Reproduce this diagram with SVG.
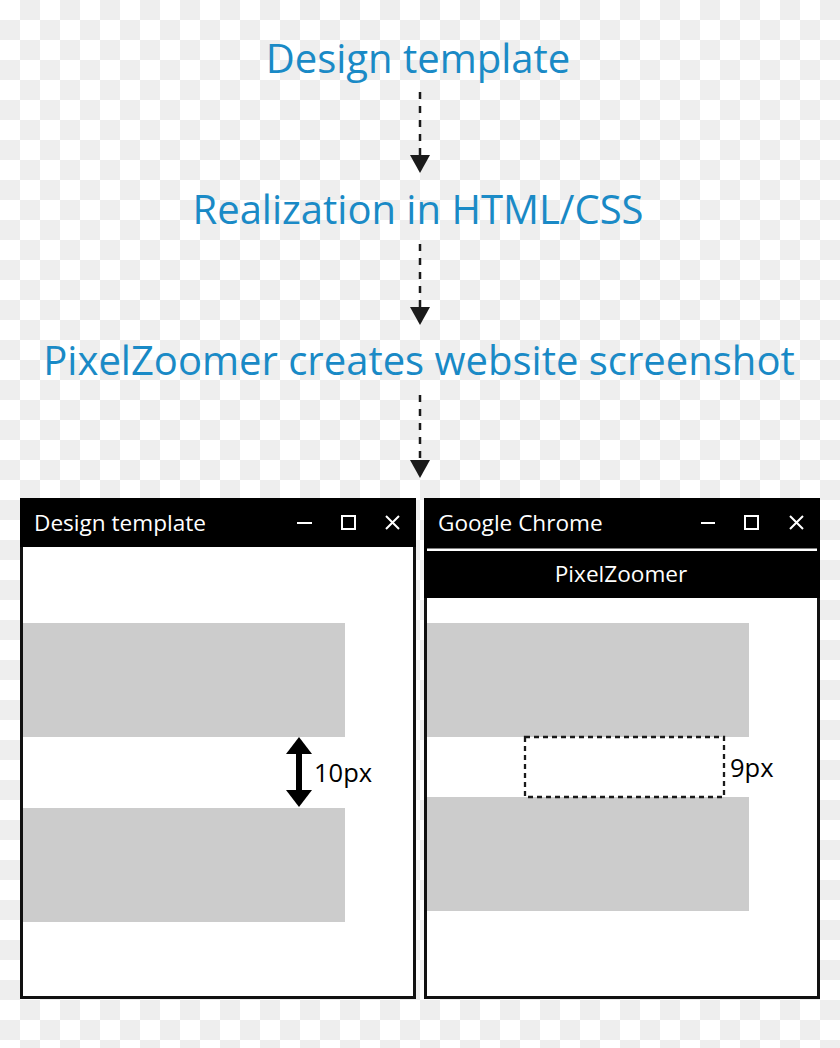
<svg xmlns="http://www.w3.org/2000/svg" width="840" height="1048" viewBox="0 0 840 1048">
<style>
.title{font-family:"Open Sans","Noto Sans",sans-serif;font-size:40px;fill:#1a8ac6;text-anchor:middle}
.wt{font-family:"Open Sans","Noto Sans",sans-serif;font-size:22.6px;fill:#ffffff}
.lbl{font-family:"Open Sans","Noto Sans",sans-serif;font-size:25.5px;fill:#000000}
.dash{stroke:#1a1a1a;stroke-width:2.5;stroke-dasharray:7,7;fill:none}
.ctl{stroke:#ffffff;stroke-width:2;fill:none}
.bar{fill:#cccccc}
</style>
<defs>
<pattern id="checker" width="40" height="40" patternUnits="userSpaceOnUse">
<rect width="40" height="40" fill="#ffffff"/>
<rect x="20" y="0" width="20" height="20" fill="#eeeeee"/>
<rect x="0" y="20" width="20" height="20" fill="#eeeeee"/>
</pattern>
</defs>
<rect width="840" height="1048" fill="url(#checker)"/>

<g id="step1"><text class="title" x="418" y="73">Design template</text></g>
<g id="step2"><text class="title" x="418" y="224">Realization in HTML/CSS</text></g>
<g id="step3"><text class="title" x="419" y="375">PixelZoomer creates website screenshot</text></g>

<g id="connectors">
<line class="dash" x1="420" y1="92" x2="420" y2="155"/>
<path d="M410,155 L430,155 L420,173 Z" fill="#1a1a1a"/>
<line class="dash" x1="420" y1="244" x2="420" y2="307"/>
<path d="M410,307 L430,307 L420,325 Z" fill="#1a1a1a"/>
<line class="dash" x1="420" y1="395" x2="420" y2="460"/>
<path d="M410,460 L430,460 L420,478 Z" fill="#1a1a1a"/>
</g>

<g id="window-design">
<rect x="21.5" y="499.5" width="393" height="498" fill="#ffffff" stroke="#111111" stroke-width="3"/>
<rect x="20" y="498" width="396" height="49" fill="#000000"/>
<text class="wt" x="34" y="531">Design template</text>
<line class="ctl" x1="297" y1="523" x2="312" y2="523"/>
<rect class="ctl" x="342" y="516" width="13" height="13"/>
<path class="ctl" d="M386,516 L399,529 M399,516 L386,529"/>
<rect class="bar" x="23" y="623" width="322" height="114"/>
<rect class="bar" x="23" y="808" width="322" height="114"/>
<rect x="296" y="750" width="6" height="44" fill="#000000"/>
<path d="M286,754 L299,737 L312,754 Z" fill="#000000"/>
<path d="M286,790 L299,807 L312,790 Z" fill="#000000"/>
<text class="lbl" x="314" y="782">10px</text>
</g>

<g id="window-chrome">
<rect x="425.5" y="499.5" width="393" height="498" fill="#ffffff" stroke="#111111" stroke-width="3"/>
<rect x="424" y="498" width="396" height="100" fill="#000000"/>
<rect x="427" y="548.5" width="390" height="2.5" fill="#ffffff"/>
<text class="wt" x="438" y="531">Google Chrome</text>
<line class="ctl" x1="701" y1="523" x2="715" y2="523"/>
<rect class="ctl" x="745" y="516" width="13" height="13"/>
<path class="ctl" d="M790,516 L803,529 M803,516 L790,529"/>
<text class="wt" x="621" y="582" text-anchor="middle">PixelZoomer</text>
<rect class="bar" x="427" y="623" width="322" height="114"/>
<rect class="bar" x="427" y="797" width="322" height="114"/>
<rect x="525" y="737" width="199" height="60" fill="none" stroke="#1a1a1a" stroke-width="2.3" stroke-dasharray="5,4"/>
<text class="lbl" x="730" y="777">9px</text>
</g>
</svg>
